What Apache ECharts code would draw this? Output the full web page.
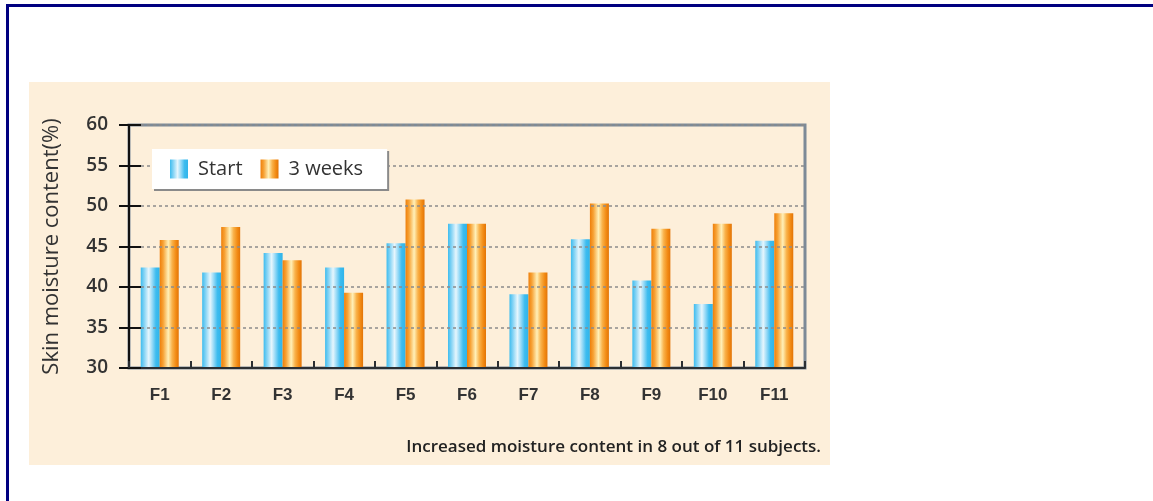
<!DOCTYPE html>
<html>
<head>
<meta charset="utf-8">
<style>
  html, body { margin: 0; padding: 0; background: #ffffff; }
  #chart { width: 1153px; height: 501px; }
</style>
<script src="https://cdn.jsdelivr.net/npm/echarts@6/dist/echarts.min.js"></script>
</head>
<body>
<div id="chart"></div>
<script>
const categories = ['F1', 'F2', 'F3', 'F4', 'F5', 'F6', 'F7', 'F8', 'F9', 'F10', 'F11'];
const startValues = [42.4, 41.8, 44.2, 42.4, 45.4, 47.8, 39.1, 45.9, 40.8, 37.9, 45.7];
const weekValues = [45.8, 47.4, 43.3, 39.3, 50.8, 47.8, 41.8, 50.3, 47.2, 47.8, 49.1];
const seriesNames = ['Start', '3 weeks'];
const yTicks = { min: 30, max: 60, interval: 5 };
const yAxisTitle = 'Skin moisture content(%)';
const footNote = 'Increased moisture content in 8 out of 11 subjects.';

const blueGrad = new echarts.graphic.LinearGradient(0, 0, 1, 0, [
  { offset: 0, color: '#3dbcef' },
  { offset: 0.2, color: '#8cd6f5' },
  { offset: 0.42, color: '#e6f6fd' },
  { offset: 0.62, color: '#8fd7f6' },
  { offset: 0.8, color: '#3dbcef' },
  { offset: 1, color: '#2fb4ea' }
]);
const orangeGrad = new echarts.graphic.LinearGradient(0, 0, 1, 0, [
  { offset: 0, color: '#ee7f0a' },
  { offset: 0.18, color: '#f7a235' },
  { offset: 0.45, color: '#fff0b8' },
  { offset: 0.65, color: '#f9b24a' },
  { offset: 0.85, color: '#f28b14' },
  { offset: 1, color: '#e27406' }
]);

const chart = echarts.init(document.getElementById('chart'), null, { renderer: 'canvas' });
const labelFont = '"Open Sans", "DejaVu Sans", sans-serif';
const armFont = '"Liberation Sans", Arial, sans-serif';

chart.setOption({
  animation: false,
  backgroundColor: '#ffffff',
  graphic: [
    { type: 'rect', z: -10, shape: { x: 29, y: 82, width: 801, height: 383 }, style: { fill: '#fdefda' } },
    { type: 'rect', z: 10, shape: { x: 6, y: 4, width: 1147, height: 3 }, style: { fill: '#000080' } },
    { type: 'rect', z: 10, shape: { x: 6, y: 4, width: 3, height: 497 }, style: { fill: '#000080' } },
    { type: 'text', z: 10, right: 332, top: 439,
      style: { text: footNote, fill: '#222', font: '600 17px ' + labelFont } }
  ],
  grid: {
    left: 129, top: 125, right: 348, bottom: 133,
    show: true, borderColor: '#7d8a97', borderWidth: 3, backgroundColor: 'transparent'
  },
  legend: {
    left: 152, top: 149, z: 20,
    orient: 'horizontal',
    backgroundColor: '#ffffff',
    borderWidth: 0,
    shadowColor: '#8a8a8a', shadowBlur: 0, shadowOffsetX: 2, shadowOffsetY: 2,
    padding: [10, 24, 10, 18],
    itemWidth: 18, itemHeight: 19, itemGap: 18,
    icon: 'rect',
    textStyle: { fontFamily: labelFont, fontSize: 20, color: '#333', padding: [0, 0, 0, 5] },
    data: seriesNames
  },
  xAxis: {
    type: 'category',
    data: categories,
    axisLine: { lineStyle: { color: '#2b2f33', width: 2 } },
    axisTick: { show: true, inside: true, length: 7, lineStyle: { color: '#2b2f33', width: 2 } },
    axisLabel: { margin: 19, fontFamily: armFont, fontWeight: 'bold', fontSize: 17, color: '#333' },
    z: 5
  },
  yAxis: [
    {
      type: 'value', min: yTicks.min, max: yTicks.max, interval: yTicks.interval,
      position: 'left',
      name: yAxisTitle, nameLocation: 'middle', nameGap: 66,
      nameTextStyle: { fontFamily: labelFont, fontSize: 22, color: '#333' },
      axisLine: { show: true, lineStyle: { color: '#111', width: 2 } },
      axisTick: { show: true, length: 10, lineStyle: { color: '#111', width: 2 } },
      axisLabel: { margin: 21, fontFamily: labelFont, fontWeight: 600, fontSize: 19, color: '#333' },
      splitLine: { show: true, lineStyle: { color: '#8c8c8c', type: [3, 3], width: 1.5 } },
      z: 5
    },
    {
      type: 'value', min: yTicks.min, max: yTicks.max, interval: yTicks.interval,
      position: 'left', offset: 0,
      axisLine: { show: false },
      axisTick: { show: true, inside: true, length: 12, lineStyle: { color: '#111', width: 2 } },
      axisLabel: { show: false },
      splitLine: { show: false },
      z: 5
    }
  ],
  series: [
    {
      name: seriesNames[0], type: 'bar', data: startValues,
      barWidth: 19, barGap: '0%',
      itemStyle: { color: blueGrad }
    },
    {
      name: seriesNames[1], type: 'bar', data: weekValues,
      barWidth: 19, barGap: '0%',
      itemStyle: { color: orangeGrad }
    }
  ]
});
</script>
</body>
</html>
